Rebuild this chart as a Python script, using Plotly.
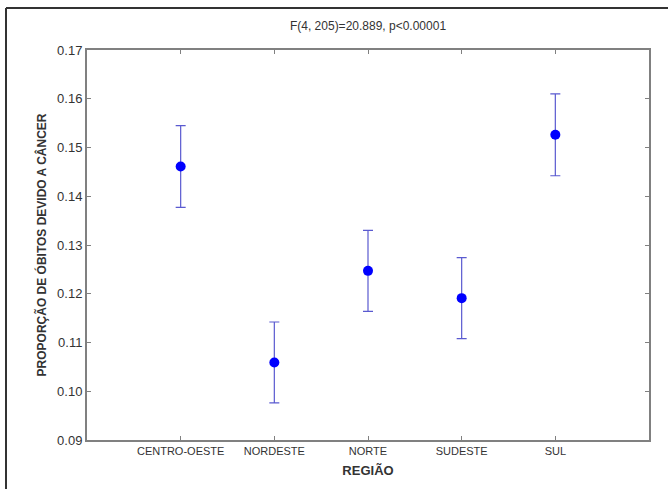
import plotly.graph_objects as go

regions = ["CENTRO-OESTE", "NORDESTE", "NORTE", "SUDESTE", "SUL"]
means = [0.1461, 0.1059, 0.1247, 0.1191, 0.1526]
errors = [0.0084, 0.0083, 0.0083, 0.0083, 0.0084]
y_ticks = [0.09, 0.10, 0.11, 0.12, 0.13, 0.14, 0.15, 0.16, 0.17]

fig = go.Figure()
fig.add_trace(go.Scatter(
    x=list(range(len(regions))), y=means, mode="markers",
    marker=dict(color="#0000ff", size=10),
    error_y=dict(type="data", array=errors, visible=True, color="#5a5ad0", thickness=1.2, width=5),
    showlegend=False,
))

L, R, T, B = 87, 19, 50, 49
W, H = 668, 489
pw, ph = W - L - R, H - T - B
fx = (6 - L) / pw
fy = 1 + (T - 8) / ph

fig.update_layout(
    width=W, height=H,
    margin=dict(l=L, r=R, t=T, b=B),
    paper_bgcolor="white", plot_bgcolor="white",
    font=dict(family="Liberation Sans, Arial", color="#333333"),
    title=dict(text="F(4, 205)=20.889, p<0.00001", x=(L + pw / 2) / W, xanchor="center",
               y=1 - 26 / H, yanchor="middle", font=dict(size=12, color="#333333")),
    xaxis=dict(range=[-1, 5], tickmode="array", tickvals=list(range(len(regions))), ticktext=regions,
               showgrid=False, zeroline=False, showline=True, linecolor="#808080", linewidth=2,
               mirror="ticks", ticks="inside", ticklen=4, tickcolor="#808080",
               tickfont=dict(size=11, color="#333333"),
               title=dict(text="<b>REGIÃO</b>", font=dict(size=13, color="#333333"), standoff=10)),
    yaxis=dict(range=[0.09, 0.17], tickmode="array", tickvals=y_ticks, ticktext=[f"{v:.2f}" for v in y_ticks],
               showgrid=False, zeroline=False, showline=True, linecolor="#808080", linewidth=2,
               mirror="ticks", ticks="inside", ticklen=4, tickcolor="#808080",
               tickfont=dict(size=13, color="#333333"),
               title=dict(text="<b>PROPORÇÃO DE ÓBITOS DEVIDO A CÂNCER</b>", font=dict(size=12, color="#333333"), standoff=8)),
    shapes=[
        dict(type="line", xref="paper", yref="paper", x0=fx, x1=1.2, y0=fy, y1=fy,
             line=dict(color="#333333", width=2)),
        dict(type="line", xref="paper", yref="paper", x0=fx, x1=fx, y0=fy, y1=-0.3,
             line=dict(color="#333333", width=2)),
    ],
)

fig.write_html("out.html", config={"displayModeBar": False},
               post_script="document.body.style.margin='0';document.body.style.overflow='hidden';")
